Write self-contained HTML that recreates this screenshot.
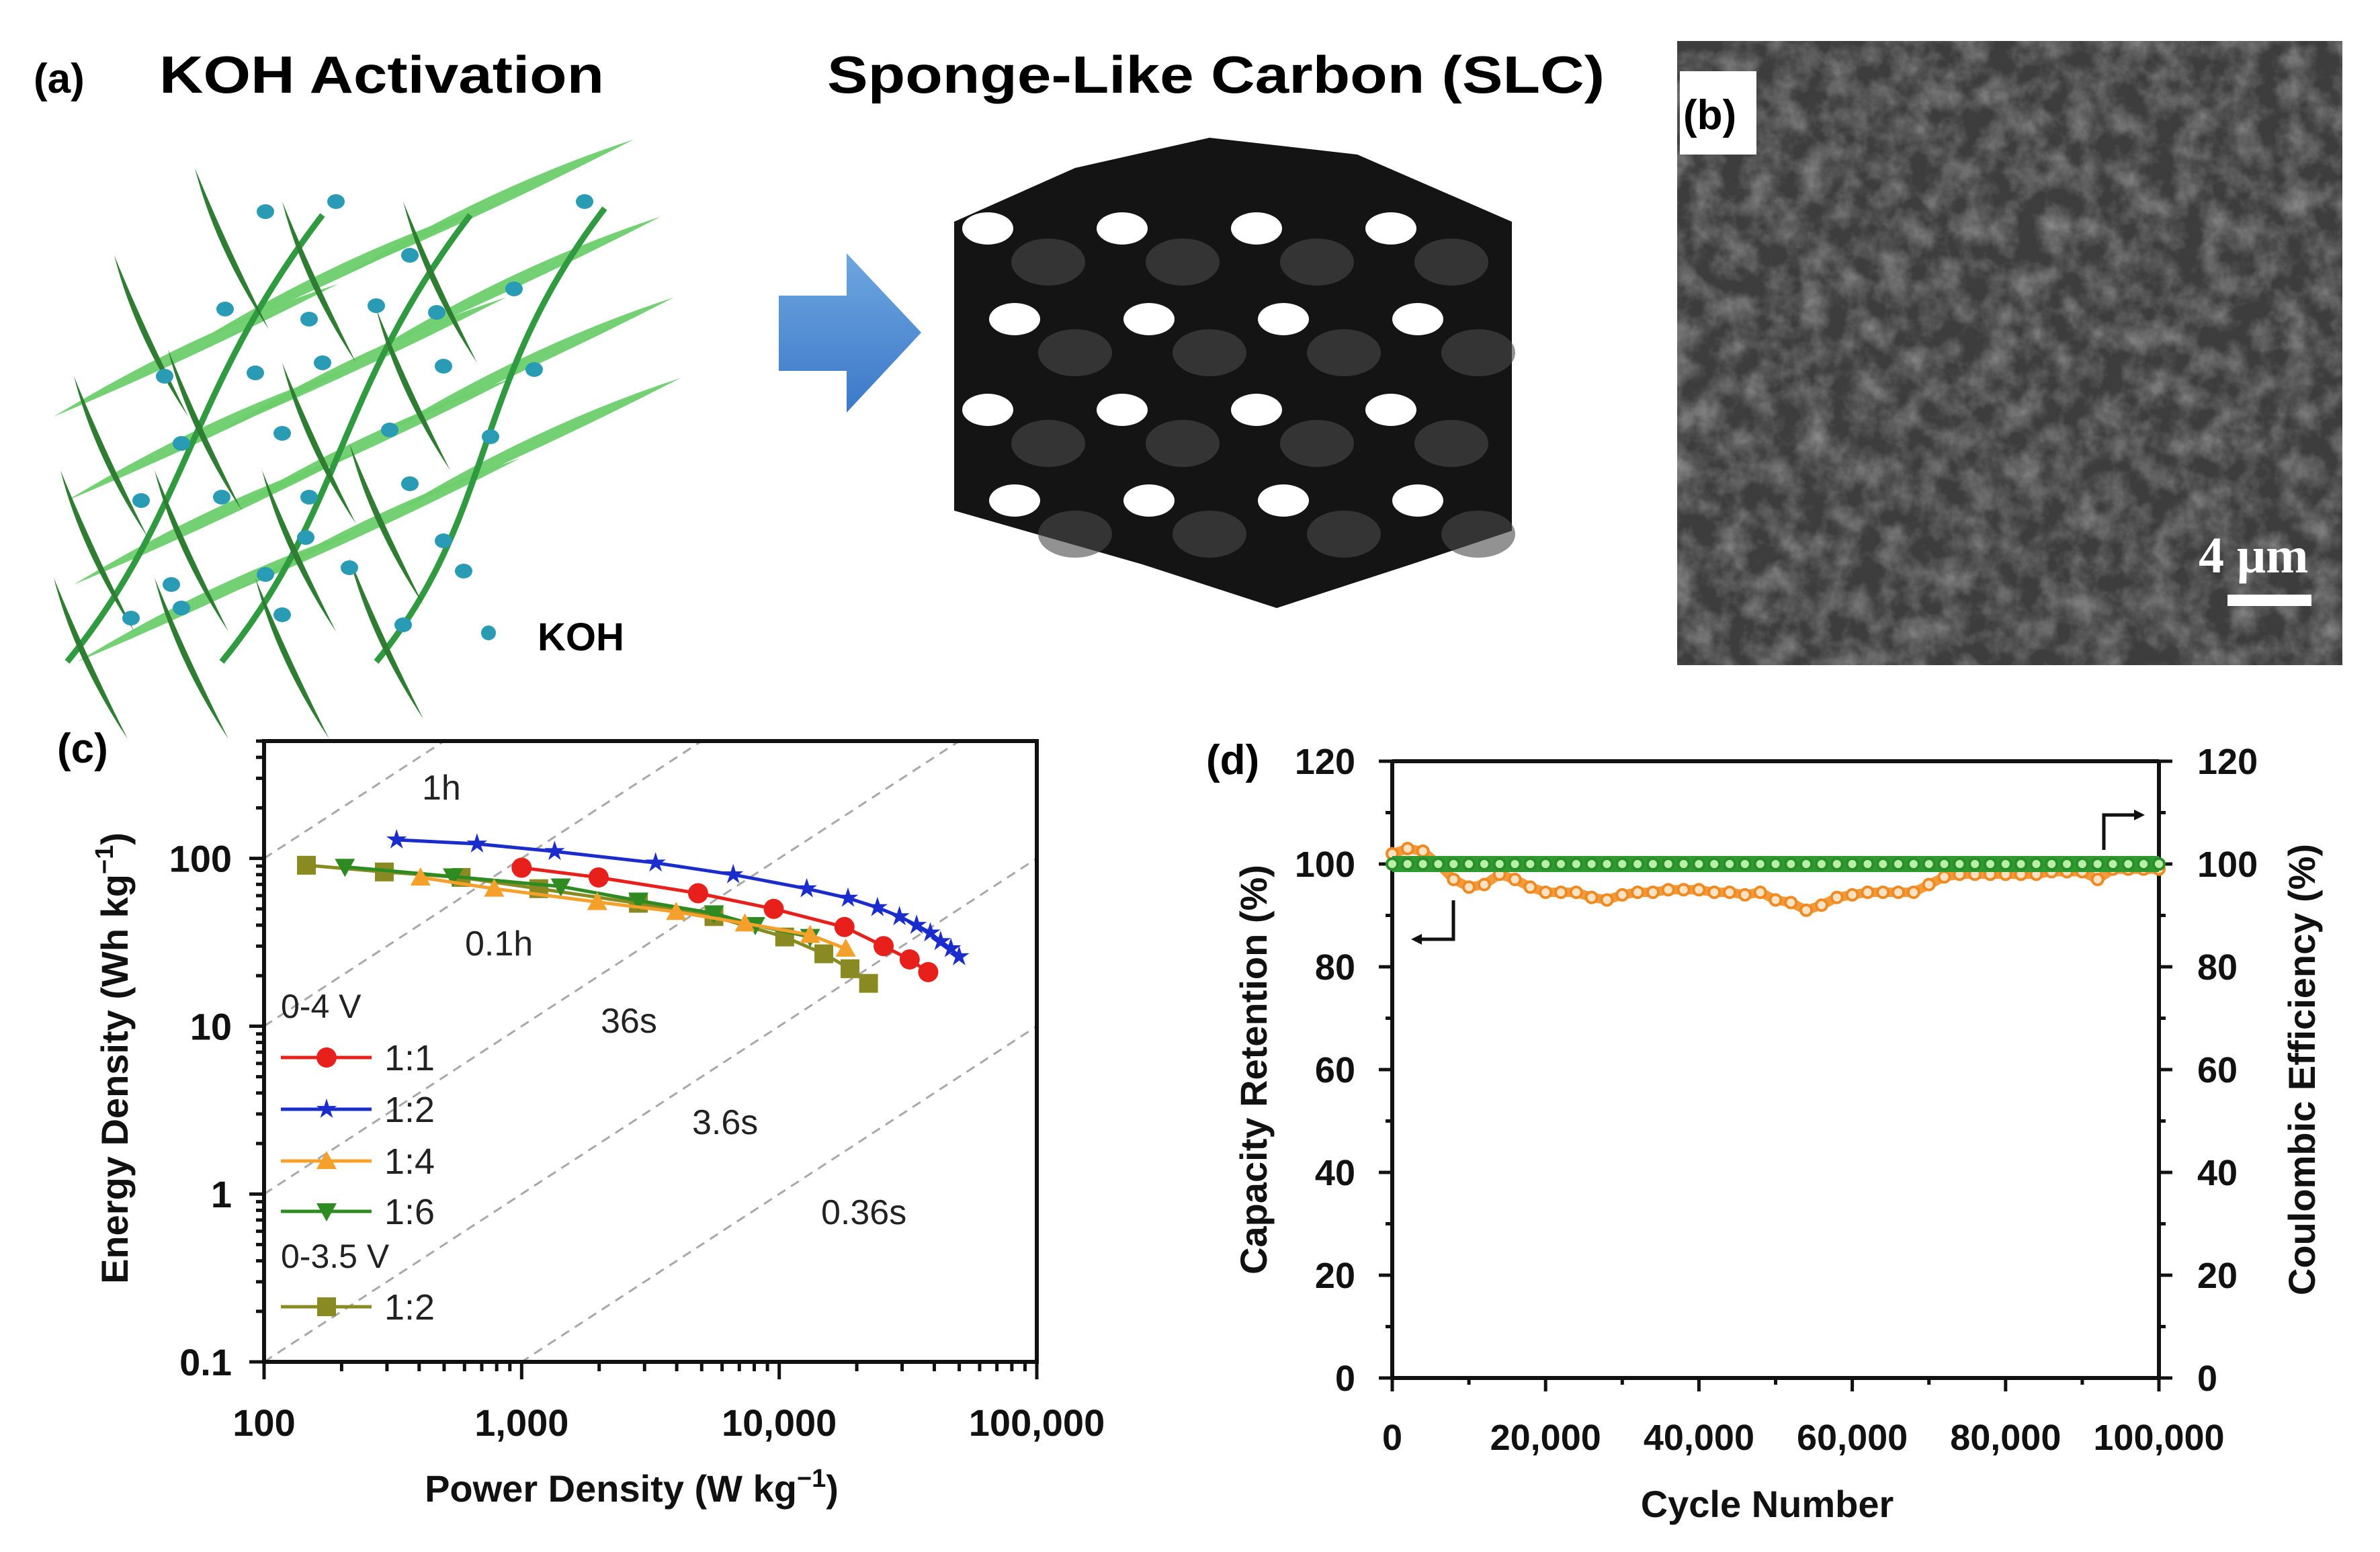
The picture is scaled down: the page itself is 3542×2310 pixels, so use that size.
<!DOCTYPE html>
<html><head><meta charset="utf-8"><style>
html,body{margin:0;padding:0;background:#fff;}
svg{display:block;}
text{font-family:"Liberation Sans",Arial,sans-serif;}
.b{font-weight:bold;}
.n{font-family:"Liberation Sans Narrow","Liberation Sans",Arial,sans-serif;font-weight:bold;}
</style></head><body>
<svg id="fig" xmlns="http://www.w3.org/2000/svg" width="3542" height="2310" viewBox="0 0 3542 2310">
<defs>
<filter id="sem" x="0" y="0" width="100%" height="100%">
<feTurbulence type="fractalNoise" baseFrequency="0.025" numOctaves="4" seed="3"/>
<feColorMatrix type="matrix" values="0 0 0 0 0.26  0 0 0 0 0.26  0 0 0 0 0.26  1.6 0 0 0 -0.55"/>
</filter>
<linearGradient id="arrowGrad" x1="0" y1="0" x2="0" y2="1"><stop offset="0" stop-color="#6fa6e0"/><stop offset="1" stop-color="#3b78c8"/></linearGradient>
<clipPath id="clipC"><rect x="393" y="1103" width="1150" height="924"/></clipPath>
<clipPath id="clipSem"><rect x="2496" y="61" width="990" height="929"/></clipPath>
</defs>

<text class="b" x="50" y="138" font-size="62">(a)</text>
<text class="b" x="237" y="138" font-size="78" textLength="662" lengthAdjust="spacingAndGlyphs">KOH Activation</text>
<text class="b" x="1231" y="138" font-size="78" textLength="1157" lengthAdjust="spacingAndGlyphs">Sponge-Like Carbon (SLC)</text>

<g id="leaves"></g>
<circle cx="727" cy="942" r="11" fill="#2a9bb5"/>
<text class="b" x="800" y="968" font-size="58">KOH</text>

<polygon points="1159,440 1260,440 1260,377 1371,495 1260,614 1260,552 1159,552" fill="url(#arrowGrad)"/>

<g id="cube"></g>

<rect x="2496" y="61" width="990" height="929" fill="#3d3d3d"/>
<rect x="2496" y="61" width="990" height="929" filter="url(#sem)" clip-path="url(#clipSem)"/>
<rect x="2500" y="106" width="114" height="124" fill="#fff"/>
<text class="b" x="2505" y="192" font-size="62">(b)</text>
<text x="3272" y="852" font-size="76" font-weight="bold" fill="#fff" style="font-family:'Liberation Serif',serif">4 μm</text>
<rect x="3315" y="885" width="125" height="17" fill="#fff"/>

<text class="b" x="85" y="1135" font-size="62">(c)</text>
<g id="chartC"></g>

<text class="b" x="1795" y="1152" font-size="62">(d)</text>
<g id="chartD"></g>
</svg>
<script>
var NS="http://www.w3.org/2000/svg";
function mk(tag,attrs,parent){var e=document.createElementNS(NS,tag);for(var k in attrs)e.setAttribute(k,attrs[k]);parent.appendChild(e);return e;}

var cSeriesNames=["1:1","1:2","1:4","1:6","1:2 (0-3.5 V)"];
var p11=[1000,1990,4842,9520,17920,25430,32100,37890];
var e11=[88,77,62,50,39,30,25,21];
var p12=[327,671,1343,3311,6627,12790,18490,24060,29290,34140,38600,42330,46400,49950];
var e12=[129,122,110,94,80,66,58,51,45,40,36,32,29,26];
var p14=[405,782,1965,3981,7356,13180,18130];
var e14=[77,66,55,48,41,35,29];
var p16=[206,541,1419,2840,5580,8070,13180];
var e16=[89,78,68,56,47,40,34];
var p35=[146,293,582,1166,2840,5580,10500,14900,18830,22220];
var e35=[91,83,77,66,54,45,34,27,22,18];
var timeLines=[1,0.1,0.01,0.001,0.0001];
var timeLabels=["1h","0.1h","36s","3.6s","0.36s"];
var cXTicks=[100,1000,10000,100000];
var cXTickLabels=["100","1,000","10,000","100,000"];
var cYTicks=[0.1,1,10,100];
var cYTickLabels=["0.1","1","10","100"];

var dCycles=[0,2000,4000,6000,8000,10000,12000,14000,16000,18000,20000,22000,24000,26000,28000,30000,32000,34000,36000,38000,40000,42000,44000,46000,48000,50000,52000,54000,56000,58000,60000,62000,64000,66000,68000,70000,72000,74000,76000,78000,80000,82000,84000,86000,88000,90000,92000,94000,96000,98000,100000];
var dRetention=[102,103,102.5,100,97,95.5,96,98,97,95.5,94.5,94.5,94.5,93.5,93,94,94.5,94.5,95,95,95,94.5,94.5,94,94.5,93,92.5,91,92,93.5,94,94.5,94.5,94.5,94.5,96,97.5,98,98,98,98,98,98,98.5,98.5,98.5,97,99,99,99,99];
var dEfficiency=[100,100,100,100,100,100,100,100,100,100,100,100,100,100,100,100,100,100,100,100,100,100,100,100,100,100,100,100,100,100,100,100,100,100,100,100,100,100,100,100,100,100,100,100,100,100,100,100,100,100,100];
var dXTicks=[0,20000,40000,60000,80000,100000];
var dXTickLabels=["0","20,000","40,000","60,000","80,000","100,000"];
var dYTicks=[0,20,40,60,80,100,120];
var dYTickLabels=["0","20","40","60","80","100","120"];

(function(){
 var g=document.getElementById('leaves');
 var starts=[[80,620],[100,745],[110,870],[115,985],[300,505],[520,405],[330,640],[340,760],[350,880],[560,520],[580,640],[590,760]];
 starts.forEach(function(s){
  var x=s[0],y=s[1],L=470,dx=L*0.9,dy=-L*0.42;
  var e=mk('path',{d:'M'+x+','+y+' Q'+(x+dx*0.5)+','+(y+dy*0.5-30)+' '+(x+dx)+','+(y+dy)+' Q'+(x+dx*0.5)+','+(y+dy*0.5+10)+' '+x+','+y+'Z',fill:'#6ccf6c',opacity:'0.95'},g);
  
  
 });
 var stems=[[100,985,480,320],[330,985,700,320],[560,985,900,310]];
 stems.forEach(function(s){
  var e=mk('path',{d:'M'+s[0]+','+s[1]+' C'+(s[0]+180)+','+(s[1]-220)+' '+(s[2]-200)+','+(s[3]+260)+' '+s[2]+','+s[3],fill:'none',stroke:'#2f9a3f','stroke-width':'9'},g);
  
  
 });
 var darks=[[170,380],[290,250],[420,300],[600,300],[110,560],[250,520],[420,540],[560,460],[90,700],[230,700],[390,700],[520,660],[80,860],[230,860],[380,860],[520,830]];
 darks.forEach(function(d){
  var x=d[0],y=d[1];
  var e=mk('path',{d:'M'+x+','+y+' Q'+(x+30)+','+(y+120)+' '+(x+110)+','+(y+240)+' Q'+(x+45)+','+(y+110)+' '+x+','+y+'Z',fill:'#2e7d32'},g);
  
  
 });
 var dots=[[395,315],[500,300],[870,300],[610,380],[335,460],[460,475],[560,455],[650,465],[765,430],[245,560],[380,555],[480,540],[660,545],[795,550],[270,660],[420,645],[580,640],[730,650],[210,745],[330,740],[460,740],[610,720],[660,805],[255,870],[395,855],[520,845],[690,850],[195,920],[270,905],[420,915],[600,930],[455,800]];
 dots.forEach(function(d){
  var e=mk('ellipse',{cx:d[0],cy:d[1],rx:13,ry:11,fill:'#2a9bb5'},g);
  
  
 });
})();

(function(){
 var g=document.getElementById('cube');
 var body=mk('polygon',{points:'1420,330 1600,250 1800,205 2020,230 2250,330 2250,790 2100,840 1900,905 1700,840 1420,760',fill:'#141414'},g);
 
 
 for(var r=0;r<4;r++){for(var c=0;c<4;c++){
  var cx=1470+c*200+(r%2)*40, cy=340+r*135;
  var h=mk('ellipse',{cx:cx,cy:cy,rx:38,ry:24,fill:'#fff'},g);
  
  
  var s=mk('ellipse',{cx:cx+90,cy:cy+50,rx:55,ry:35,fill:'#4a4a4a',opacity:'0.6'},g);
  
  
 }}
})();

(function(){
 var g=document.getElementById('chartC');
 var L=393,R=1543,T=1103,B=2027;
 var xmin=2,xmax=5,ymin=-1,ymax=Math.log10(500);
 function X(p){return L+(Math.log10(p)-xmin)/(xmax-xmin)*(R-L);}
 function Y(e){return B-(Math.log10(e)-ymin)/(ymax-ymin)*(B-T);}
 var clip=mk('g',{'clip-path':'url(#clipC)'},g);
 timeLines.forEach(function(t,i){
  var p1=100,p2=100000;
  var ln=mk('line',{x1:X(p1),y1:Y(p1*t),x2:X(p2),y2:Y(p2*t),stroke:'#a8a8a8','stroke-width':'3','stroke-dasharray':'14,10'},clip);
  
  
 });
 var tlPos=[[628,1190],[692,1422],[894,1537],[1030,1688],[1222,1822]];
 timeLabels.forEach(function(s,i){
  var t=mk('text',{x:tlPos[i][0],y:tlPos[i][1],'font-size':'52',fill:'#222'},g);
  t.textContent=s;
  
  
 });
 var ax=mk('path',{d:'M'+L+','+T+' H'+R+' V'+B+' H'+L+' Z',fill:'none',stroke:'#111','stroke-width':'6'},g);
 
 
 for(var d=2;d<5;d++){for(var m=1;m<10;m++){var v=m*Math.pow(10,d);var x=X(v);
  var tk=mk('line',{x1:x,y1:B,x2:x,y2:B+(m==1?26:14),stroke:'#111','stroke-width':'5'},g);
  
  }}
 var tk2=mk('line',{x1:R,y1:B,x2:R,y2:B+26,stroke:'#111','stroke-width':'5'},g);
 
 
 for(var d=-1;d<3;d++){for(var m=1;m<10;m++){var v=m*Math.pow(10,d);if(Math.log10(v)>ymax)break;var y=Y(v);
  var tk=mk('line',{x1:L-(m==1?22:12),y1:y,x2:L,y2:y,stroke:'#111','stroke-width':'5'},g);
  
  }}
 cXTicks.forEach(function(v,i){
  var t=mk('text',{x:X(v),y:2137,'font-size':'56','text-anchor':'middle',class:'n',fill:'#111'},g);
  t.textContent=cXTickLabels[i];
  
  
 });
 cYTicks.forEach(function(v,i){
  var t=mk('text',{x:345,y:Y(v)+20,'font-size':'56','text-anchor':'end',class:'n',fill:'#111'},g);
  t.textContent=cYTickLabels[i];
  
  
 });
 var xt=mk('text',{x:940,y:2235,'font-size':'56','text-anchor':'middle',class:'n',fill:'#111'},g);
 xt.innerHTML='Power Density (W kg<tspan dy="-22" font-size="38">−1</tspan><tspan dy="22">)</tspan>';
 
 
 var yt=mk('text',{x:0,y:0,'font-size':'56','text-anchor':'middle',class:'n',fill:'#111',transform:'translate(190,1575) rotate(-90)'},g);
 yt.innerHTML='Energy Density (Wh kg<tspan dy="-22" font-size="38">−1</tspan><tspan dy="22">)</tspan>';
 
 

 function marker(type,x,y,col,parent){
  var s=15,e;
  if(type=='circle')e=mk('circle',{cx:x,cy:y,r:s,fill:col},parent);
  else if(type=='square')e=mk('rect',{x:x-s+1,y:y-s+1,width:2*s-2,height:2*s-2,fill:col},parent);
  else if(type=='up')e=mk('polygon',{points:x+','+(y-s)+' '+(x+s)+','+(y+s*0.8)+' '+(x-s)+','+(y+s*0.8),fill:col},parent);
  else if(type=='down')e=mk('polygon',{points:x+','+(y+s)+' '+(x+s)+','+(y-s*0.8)+' '+(x-s)+','+(y-s*0.8),fill:col},parent);
  else {var pts=[];for(var k=0;k<10;k++){var r=k%2?6:16,a=-Math.PI/2+k*Math.PI/5;pts.push((x+r*Math.cos(a)).toFixed(1)+','+(y+r*Math.sin(a)).toFixed(1));}
   e=mk('polygon',{points:pts.join(' '),fill:col},parent);}
  return e;
 }
 var series=[[p35,e35,'#8a8a22','square'],[p16,e16,'#2e8b22','down'],[p14,e14,'#f5a02a','up'],[p11,e11,'#e8201c','circle'],[p12,e12,'#1a2ccc','star']];
 series.forEach(function(s){
  var sg=mk('g',{},g);
  
  
  var d=s[0].map(function(p,i){return (i?'L':'M')+X(p).toFixed(1)+','+Y(s[1][i]).toFixed(1);}).join(' ');
  var pl=mk('path',{d:d,fill:'none',stroke:s[2],'stroke-width':'5'},sg);
  
  
  s[0].forEach(function(p,i){var m=marker(s[3],X(p),Y(s[1][i]),s[2],sg);
   
   });
 });
 var lg=mk('g',{},g);
 
 
 var h1=mk('text',{x:418,y:1515,'font-size':'50',fill:'#222'},lg);h1.textContent='0-4 V';
 
 
 var h2=mk('text',{x:418,y:1887,'font-size':'50',fill:'#222'},lg);h2.textContent='0-3.5 V';
 
 
 var le=[['1:1','#e8201c','circle',1574],['1:2','#1a2ccc','star',1651],['1:4','#f5a02a','up',1728],['1:6','#2e8b22','down',1803],['1:2','#8a8a22','square',1945]];
 le.forEach(function(l){
  var eg=mk('g',{},lg);
  
  
  mk('line',{x1:418,y1:l[3],x2:553,y2:l[3],stroke:l[1],'stroke-width':'5'},eg);
  marker(l[2],486,l[3],l[1],eg);
  var t=mk('text',{x:572,y:l[3]+19,'font-size':'54',fill:'#222'},eg);t.textContent=l[0];
 });
})();

(function(){
 var g=document.getElementById('chartD');
 var L=2072,R=3213,T=1133,B=2051;
 function X(c){return L+c/100000*(R-L);}
 function Y(v){return B-v/120*(B-T);}
 var fr=mk('path',{d:'M'+L+','+T+' H'+R+' M'+L+','+B+' H'+R+' M'+L+','+T+' V'+B+' M'+R+','+T+' V'+B,fill:'none',stroke:'#111','stroke-width':'6'},g);
 
 
 for(var v=0;v<=120;v+=10){var maj=v%20==0;
  var a=mk('line',{x1:L-(maj?20:10),y1:Y(v),x2:L,y2:Y(v),stroke:'#111','stroke-width':'5'},g);
  
  
  var b=mk('line',{x1:R,y1:Y(v),x2:R+(maj?20:10),y2:Y(v),stroke:'#111','stroke-width':'5'},g);
  
  }
 for(var c=0;c<=100000;c+=10000){var maj=c%20000==0;
  var t=mk('line',{x1:X(c),y1:B,x2:X(c),y2:B+(maj?20:10),stroke:'#111','stroke-width':'5'},g);
  
  }
 dYTicks.forEach(function(v,i){
  var t=mk('text',{x:2017,y:Y(v)+19,'font-size':'54','text-anchor':'end',class:'n',fill:'#111'},g);t.textContent=dYTickLabels[i];
  
  
  var t2=mk('text',{x:3270,y:Y(v)+19,'font-size':'54',class:'n',fill:'#111'},g);t2.textContent=dYTickLabels[i];
  
  
 });
 dXTicks.forEach(function(v,i){
  var t=mk('text',{x:X(v),y:2158,'font-size':'54','text-anchor':'middle',class:'n',fill:'#111'},g);t.textContent=dXTickLabels[i];
  
  
 });
 var xt=mk('text',{x:2630,y:2258,'font-size':'56','text-anchor':'middle',class:'n',fill:'#111'},g);xt.textContent='Cycle Number';
 
 
 var yl=mk('text',{x:0,y:0,'font-size':'56','text-anchor':'middle',class:'n',fill:'#111',transform:'translate(1885,1592) rotate(-90)'},g);yl.textContent='Capacity Retention (%)';
 
 
 var yr=mk('text',{x:0,y:0,'font-size':'56','text-anchor':'middle',class:'n',fill:'#111',transform:'translate(3445,1592) rotate(-90)'},g);yr.textContent='Coulombic Efficiency (%)';
 
 
 var rg=mk('g',{},g);
 
 
 var d=dCycles.map(function(c,i){return (i?'L':'M')+X(c).toFixed(1)+','+Y(dRetention[i]).toFixed(1);}).join(' ');
 mk('path',{d:d,fill:'none',stroke:'#f39a3c','stroke-width':'14','stroke-linejoin':'round'},rg);
 dCycles.forEach(function(c,i){var m=mk('circle',{cx:X(c),cy:Y(dRetention[i]),r:8,fill:'#fde3c4',stroke:'#f08a20','stroke-width':'4'},rg);
  
  });
 var eg=mk('g',{},g);
 
 
 var d2=dCycles.map(function(c,i){return (i?'L':'M')+X(c).toFixed(1)+','+Y(dEfficiency[i]).toFixed(1);}).join(' ');
 mk('path',{d:d2,fill:'none',stroke:'#2f9a2f','stroke-width':'24'},eg);
 dCycles.forEach(function(c,i){var m=mk('circle',{cx:X(c),cy:Y(dEfficiency[i]),r:8,fill:'#b8f0a8',stroke:'#2a8f2a','stroke-width':'4'},eg);
  
  });
 var a1=mk('path',{d:'M2163,1340 V1398 H2112',fill:'none',stroke:'#111','stroke-width':'5'},g);
 
 
 var h1=mk('polygon',{points:'2100,1398 2116,1390 2116,1406',fill:'#111'},g);
 
 
 var a2=mk('path',{d:'M3131,1265 V1213 H3180',fill:'none',stroke:'#111','stroke-width':'5'},g);
 
 
 var h2=mk('polygon',{points:'3192,1213 3176,1205 3176,1221',fill:'#111'},g);
 
 
})();
</script>
</body></html>
